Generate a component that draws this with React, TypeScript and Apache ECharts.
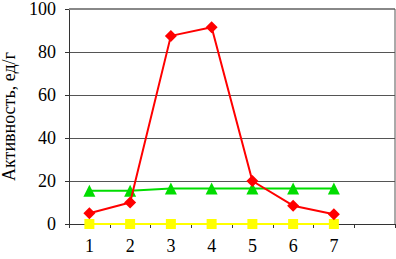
import React, { useEffect, useRef } from "react";
import * as echarts from "echarts";

const categories = ["1", "2", "3", "4", "5", "6", "7", ""];
const redValues = [5, 10, 87.5, 91.5, 20, 8.5, 4.5];
const greenValues = [15.5, 15.5, 16.5, 16.5, 16.5, 16.5, 16.5];
const yellowValues = [0, 0, 0, 0, 0, 0, 0];
const yAxisName = "Активность, ед/г";

export default function App() {
  const ref = useRef<HTMLDivElement>(null);
  useEffect(() => {
    const chart = echarts.init(ref.current!, null, { renderer: "svg" });
    const font = "'Liberation Serif'";
    const w = 396, h = 259;
    chart.setOption({
      animation: false,
      backgroundColor: "#ffffff",
      textStyle: { fontFamily: font },
      grid: { left: 69, right: 1, top: 9, bottom: 35, containLabel: false, outerBoundsMode: "none" },
      xAxis: {
        type: "category",
        data: categories,
        boundaryGap: true,
        axisLine: { show: true, lineStyle: { color: "#333", width: 1 } },
        axisTick: { show: true, length: 4, lineStyle: { color: "#333" } },
        axisLabel: { color: "#000", fontFamily: font, fontSize: 18, margin: 13 },
        splitLine: { show: false },
      },
      yAxis: {
        type: "value",
        min: 0,
        max: 100,
        interval: 20,
        name: yAxisName,
        nameLocation: "middle",
        nameGap: 45,
        nameTextStyle: { color: "#000", fontFamily: font, fontSize: 18 },
        axisLine: { show: true, lineStyle: { color: "#333", width: 1 } },
        axisTick: { show: true, length: 4, lineStyle: { color: "#333" } },
        axisLabel: { color: "#000", fontFamily: font, fontSize: 18, margin: 13 },
        splitLine: { show: true, lineStyle: { color: "#555", width: 1 } },
      },
      graphic: [
        { type: "line", shape: { x1: 69, y1: 9, x2: w - 1, y2: 9 }, style: { stroke: "#888", lineWidth: 2 }, z: 10 },
        { type: "line", shape: { x1: w - 1, y1: 9, x2: w - 1, y2: h - 35 }, style: { stroke: "#555", lineWidth: 1 }, z: 10 },
      ],
      series: [
        {
          type: "line",
          data: yellowValues,
          symbol: "rect",
          symbolSize: 10,
          lineStyle: { color: "#ffff00", width: 2 },
          itemStyle: { color: "#ffff00" },
          z: 3,
        },
        {
          type: "line",
          data: greenValues,
          symbol: "triangle",
          symbolSize: 12,
          lineStyle: { color: "#00dd00", width: 2 },
          itemStyle: { color: "#00dd00" },
          z: 4,
        },
        {
          type: "line",
          data: redValues,
          symbol: "diamond",
          symbolSize: 12,
          lineStyle: { color: "#ff0000", width: 2 },
          itemStyle: { color: "#ff0000" },
          z: 5,
        },
      ],
    });
    return () => chart.dispose();
  }, []);
  return <div ref={ref} style={{ position: "absolute", left: 0, top: 0, width: 396, height: 259 }} />;
}
